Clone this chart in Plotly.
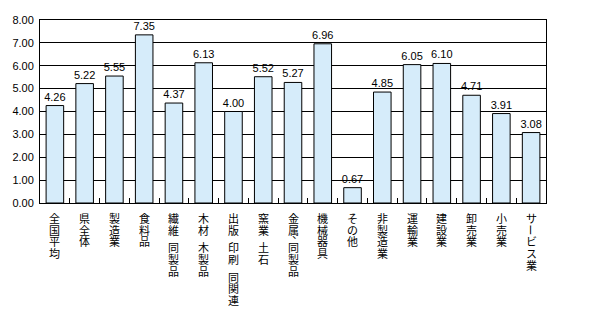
import plotly.graph_objects as go

# Categories (industries) and their values
categories = [
    "全国平均", "県全体", "製造業", "食料品", "繊維・同製品", "木材・木製品",
    "出版・印刷・同関連", "窯業・土石", "金属、同製品", "機械器具", "その他",
    "非製造業", "運輸業", "建設業", "卸売業", "小売業", "サービス業",
]
values = [4.26, 5.22, 5.55, 7.35, 4.37, 6.13, 4.00, 5.52, 5.27, 6.96, 0.67,
          4.85, 6.05, 6.10, 4.71, 3.91, 3.08]
y_ticks = [0, 1, 2, 3, 4, 5, 6, 7, 8]

LABEL_FONT = "Noto Sans CJK JP, sans-serif"
NUM_FONT = "Liberation Sans, Arial, sans-serif"

fig = go.Figure()
fig.add_trace(go.Bar(
    x=categories,
    y=values,
    marker=dict(color="rgb(214,236,250)", line=dict(color="black", width=1)),
    text=[f"{v:.2f}" for v in values],
    textposition="outside",
    constraintext="none",
    textfont=dict(family=NUM_FONT, size=11, color="black"),
    cliponaxis=False,
    width=0.59,
))

# Vertical (top-to-bottom) category labels, one glyph per annotation
rotated_chars = {"ー"}
half_chars = {"・", "、"}
annotations = []
for cat in categories:
    offset = 9.0
    for ch in cat:
        adv = 6.0 if ch in half_chars else 11.7
        if ch != "・":
            ann = dict(
                x=cat, y=0, xref="x", yref="y",
                text=ch, showarrow=False,
                yanchor="middle", xanchor="center",
                yshift=-(offset + adv / 2),
                font=dict(family=LABEL_FONT, size=11, color="black"),
            )
            if ch in rotated_chars:
                ann["textangle"] = 90
            if ch == "、":
                ann["xshift"] = 4
                ann["yshift"] = -(offset - 2)
            annotations.append(ann)
        offset += adv

fig.update_layout(
    width=605, height=309,
    margin=dict(l=29, r=59, t=20, b=106),
    paper_bgcolor="white", plot_bgcolor="white",
    showlegend=False,
    annotations=annotations,
    xaxis=dict(
        showticklabels=False,
        showline=True, linecolor="black", linewidth=1, mirror=True,
        ticks="inside", tickson="boundaries", ticklen=5,
        tickcolor="black", tickwidth=1,
        showgrid=False,
    ),
    yaxis=dict(
        range=[0, 8],
        tickvals=y_ticks,
        ticktext=[f"{v:.2f}" for v in y_ticks],
        tickfont=dict(family=NUM_FONT, size=11, color="black"),
        showline=True, linecolor="black", linewidth=1, mirror=True,
        showgrid=True, gridcolor="black", gridwidth=1,
        zeroline=False,
        ticks="", ticklabelstandoff=3,
    ),
)

fig.write_html("out.html")
